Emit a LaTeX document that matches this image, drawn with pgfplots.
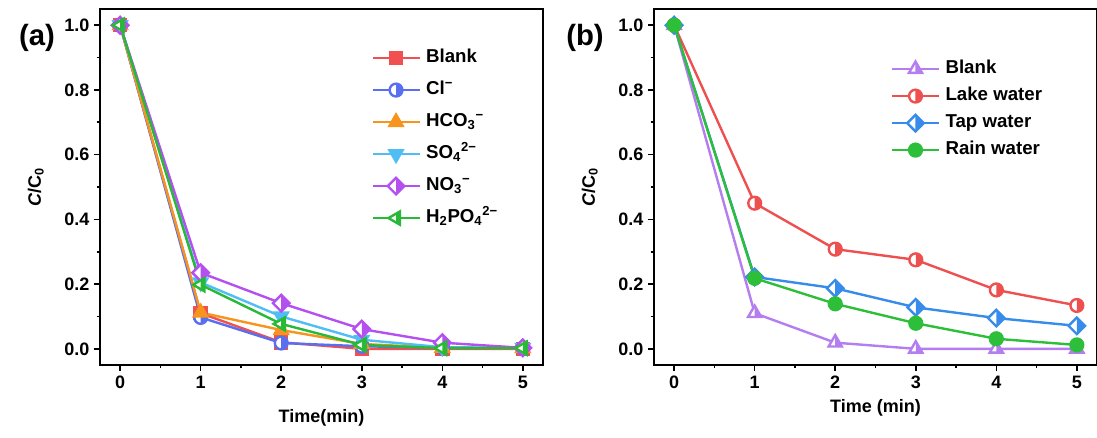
\documentclass[border=0pt]{standalone}
\usepackage{fontspec}
\setmainfont{Liberation Sans}
\usepackage{pgfplots}
\pgfplotsset{compat=1.18}
\usetikzlibrary{plotmarks}

\definecolor{cBlank}{RGB}{240,80,80}
\definecolor{cCl}{RGB}{90,110,240}
\definecolor{cHCO}{RGB}{247,148,30}
\definecolor{cSO}{RGB}{80,190,245}
\definecolor{cNO}{RGB}{180,80,240}
\definecolor{cHPO}{RGB}{40,185,55}
\definecolor{cBblank}{RGB}{180,125,240}
\definecolor{cLake}{RGB}{238,80,80}
\definecolor{cTap}{RGB}{55,140,235}
\definecolor{cRain}{RGB}{45,190,58}

% half-filled circle (right half filled)
\pgfdeclareplotmark{hcirc}{%
  \pgfscope\pgfsetfillcolor{white}%
  \pgfpathcircle{\pgfpointorigin}{\pgfplotmarksize}\pgfusepathqfill\endpgfscope
  \pgfpathmoveto{\pgfqpoint{0pt}{\pgfplotmarksize}}%
  \pgfpatharc{90}{-90}{\pgfplotmarksize}\pgfpathclose\pgfusepathqfill
  \pgfpathcircle{\pgfpointorigin}{\pgfplotmarksize}\pgfusepathqstroke}
% half-filled diamond (right half filled)
\pgfdeclareplotmark{hdiam}{%
  \pgfscope\pgfsetfillcolor{white}%
  \pgfpathmoveto{\pgfqpoint{0pt}{\pgfplotmarksize}}%
  \pgfpathlineto{\pgfqpoint{\pgfplotmarksize}{0pt}}%
  \pgfpathlineto{\pgfqpoint{0pt}{-\pgfplotmarksize}}%
  \pgfpathlineto{\pgfqpoint{-\pgfplotmarksize}{0pt}}%
  \pgfpathclose\pgfusepathqfill\endpgfscope
  \pgfpathmoveto{\pgfqpoint{0pt}{\pgfplotmarksize}}%
  \pgfpathlineto{\pgfqpoint{\pgfplotmarksize}{0pt}}%
  \pgfpathlineto{\pgfqpoint{0pt}{-\pgfplotmarksize}}%
  \pgfpathclose\pgfusepathqfill
  \pgfpathmoveto{\pgfqpoint{0pt}{\pgfplotmarksize}}%
  \pgfpathlineto{\pgfqpoint{\pgfplotmarksize}{0pt}}%
  \pgfpathlineto{\pgfqpoint{0pt}{-\pgfplotmarksize}}%
  \pgfpathlineto{\pgfqpoint{-\pgfplotmarksize}{0pt}}%
  \pgfpathclose\pgfusepathqstroke}
% left-pointing triangle, right part filled
\pgfdeclareplotmark{htril}{%
  \pgfscope\pgfsetfillcolor{white}%
  \pgfpathmoveto{\pgfqpoint{-\pgfplotmarksize}{0pt}}%
  \pgfpathlineto{\pgfqpoint{0.5\pgfplotmarksize}{0.866\pgfplotmarksize}}%
  \pgfpathlineto{\pgfqpoint{0.5\pgfplotmarksize}{-0.866\pgfplotmarksize}}%
  \pgfpathclose\pgfusepathqfill\endpgfscope
  \pgfpathmoveto{\pgfqpoint{0pt}{0.577\pgfplotmarksize}}%
  \pgfpathlineto{\pgfqpoint{0.5\pgfplotmarksize}{0.866\pgfplotmarksize}}%
  \pgfpathlineto{\pgfqpoint{0.5\pgfplotmarksize}{-0.866\pgfplotmarksize}}%
  \pgfpathlineto{\pgfqpoint{0pt}{-0.577\pgfplotmarksize}}%
  \pgfpathclose\pgfusepathqfill
  \pgfpathmoveto{\pgfqpoint{-\pgfplotmarksize}{0pt}}%
  \pgfpathlineto{\pgfqpoint{0.5\pgfplotmarksize}{0.866\pgfplotmarksize}}%
  \pgfpathlineto{\pgfqpoint{0.5\pgfplotmarksize}{-0.866\pgfplotmarksize}}%
  \pgfpathclose\pgfusepathqstroke}
% up triangle, right half filled
\pgfdeclareplotmark{htriu}{%
  \pgfscope\pgfsetfillcolor{white}%
  \pgfpathmoveto{\pgfqpoint{0pt}{\pgfplotmarksize}}%
  \pgfpathlineto{\pgfqpoint{0.866\pgfplotmarksize}{-0.5\pgfplotmarksize}}%
  \pgfpathlineto{\pgfqpoint{-0.866\pgfplotmarksize}{-0.5\pgfplotmarksize}}%
  \pgfpathclose\pgfusepathqfill\endpgfscope
  \pgfpathmoveto{\pgfqpoint{0pt}{\pgfplotmarksize}}%
  \pgfpathlineto{\pgfqpoint{0.866\pgfplotmarksize}{-0.5\pgfplotmarksize}}%
  \pgfpathlineto{\pgfqpoint{0pt}{-0.5\pgfplotmarksize}}%
  \pgfpathclose\pgfusepathqfill
  \pgfpathmoveto{\pgfqpoint{0pt}{\pgfplotmarksize}}%
  \pgfpathlineto{\pgfqpoint{0.866\pgfplotmarksize}{-0.5\pgfplotmarksize}}%
  \pgfpathlineto{\pgfqpoint{-0.866\pgfplotmarksize}{-0.5\pgfplotmarksize}}%
  \pgfpathclose\pgfusepathqstroke}

\pgfplotsset{
  myaxis/.style={
    scale only axis, width=332.25pt, height=267pt,
    xmin=-0.25, xmax=5.25, ymin=-0.05, ymax=1.05,
    xtick={0,1,2,3,4,5}, ytick={0,0.2,0.4,0.6,0.8,1},
    minor x tick num=1, minor y tick num=1,
    tick pos=left, tick align=outside,
    major tick length=4.5pt, minor tick length=2.5pt,
    axis line style={line width=1.4pt},
    every tick/.style={line width=1.2pt, black},
    /pgf/number format/assume math mode=true,
    tick label style={font=\fontsize{13.5}{15}\selectfont\bfseries},
    yticklabel style={/pgf/number format/.cd, fixed, fixed zerofill, precision=1},
    label style={font=\fontsize{13.5}{16}\selectfont\bfseries},
    ylabel style={at={(axis description cs:-0.145,0.5)}, anchor=center},
    legend cell align=left,
    legend image code/.code={\draw[mark repeat=2,mark phase=2] plot coordinates {(0pt,0pt) (17.6pt,0pt) (35.25pt,0pt)};},
    every axis plot/.append style={line width=1.8pt, mark options={line width=0.9pt, solid}},
  }
}

\begin{document}
\begin{tikzpicture}
\useasboundingbox (0,0) rectangle (822.75pt,327.75pt);

\begin{axis}[myaxis, at={(75pt,54pt)}, anchor=south west,
  xlabel={Time(min)},
  xlabel style={at={(axis description cs:0.5,-0.149)}, anchor=center},
  ylabel={\textit{C}/C\textsubscript{0}},
  legend style={draw=none, fill=none, inner sep=0pt, at={(axis description cs:0.612,0.891)}, anchor=north west,
    font=\fontsize{14}{16}\selectfont\bfseries, row sep=9pt,
    nodes={inner sep=1pt, text height=10pt, text depth=3pt},
    /tikz/every odd column/.append style={column sep=3pt}},
]
\addplot[color=cBlank, mark=square*, mark size=4.5pt, mark options={fill=cBlank}] coordinates {(0,1) (1,0.11) (2,0.02) (3,0.0) (4,0.0) (5,0.0)};
\addlegendentry{Blank}
\addplot[color=cCl, mark=hcirc, mark size=4.8pt, mark options={fill=cCl}] coordinates {(0,1) (1,0.097) (2,0.018) (3,0.008) (4,0.003) (5,0.002)};
\addlegendentry{Cl\textsuperscript{−}}
\addplot[color=cHCO, mark=triangle*, mark size=5.7pt, mark options={fill=cHCO}] coordinates {(0,1) (1,0.112) (2,0.058) (3,0.015) (4,0.003) (5,0.002)};
\addlegendentry{HCO\textsubscript{3}\textsuperscript{−}}
\addplot[color=cSO, mark=triangle*, mark size=5.7pt, mark options={fill=cSO, rotate=180}] coordinates {(0,1) (1,0.205) (2,0.10) (3,0.028) (4,0.005) (5,0.003)};
\addlegendentry{SO\textsubscript{4}\textsuperscript{2−}}
\addplot[color=cNO, mark=hdiam, mark size=6.2pt, mark options={fill=cNO}] coordinates {(0,1) (1,0.235) (2,0.141) (3,0.061) (4,0.019) (5,0.003)};
\addlegendentry{NO\textsubscript{3}\textsuperscript{−}}
\addplot[color=cHPO, mark=htril, mark size=5.7pt, mark options={fill=cHPO}] coordinates {(0,1) (1,0.198) (2,0.077) (3,0.012) (4,0.002) (5,0.002)};
\addlegendentry{H\textsubscript{2}PO\textsubscript{4}\textsuperscript{2−}}
\end{axis}

\begin{axis}[myaxis, at={(490.5pt,54pt)}, anchor=south west,
  xlabel={Time (min)},
  xlabel style={at={(axis description cs:0.5,-0.121)}, anchor=center},
  ylabel={\textit{C}/C\textsubscript{0}},
  legend style={draw=none, fill=none, inner sep=0pt, at={(axis description cs:0.534,0.86)}, anchor=north west,
    font=\fontsize{14}{16}\selectfont\bfseries, row sep=5.25pt,
    nodes={inner sep=1pt, text height=10pt, text depth=3pt},
    /tikz/every odd column/.append style={column sep=3pt}},
]
\addplot[color=cBblank, mark=htriu, mark size=5.7pt, mark options={fill=cBblank}] coordinates {(0,1) (1,0.11) (2,0.019) (3,0.0) (4,0.0) (5,0.0)};
\addlegendentry{Blank}
\addplot[color=cLake, mark=hcirc, mark size=4.8pt, mark options={fill=cLake}] coordinates {(0,1) (1,0.45) (2,0.308) (3,0.275) (4,0.182) (5,0.134)};
\addlegendentry{Lake water}
\addplot[color=cTap, mark=hdiam, mark size=6.2pt, mark options={fill=cTap}] coordinates {(0,1) (1,0.222) (2,0.187) (3,0.128) (4,0.095) (5,0.071)};
\addlegendentry{Tap water}
\addplot[color=cRain, mark=*, mark size=4.8pt, mark options={fill=cRain}] coordinates {(0,1) (1,0.218) (2,0.139) (3,0.079) (4,0.031) (5,0.012)};
\addlegendentry{Rain water}
\end{axis}

\node[font=\fontsize{22}{26}\selectfont\bfseries] at (27.75pt,299pt) {(a)};
\node[font=\fontsize{22}{26}\selectfont\bfseries] at (438.75pt,299pt) {(b)};
\end{tikzpicture}
\end{document}
